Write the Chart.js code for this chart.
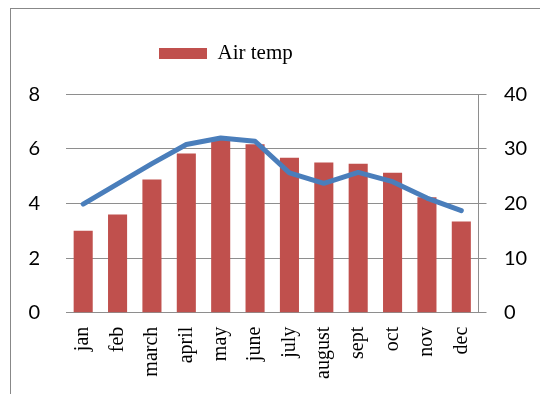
<!DOCTYPE html>
<html lang="en">
<head>
<meta charset="UTF-8">
<title>Air temp</title>
<script src="https://cdn.jsdelivr.net/npm/chart.js"></script>
<style>
  html, body { margin: 0; padding: 0; background: #fff; }
  #wrap { position: relative; width: 540px; height: 394px; overflow: hidden; }
  /* outer chart frame, only left and top edges are visible in the crop */
  #frame { position: absolute; left: 10px; top: 8px; width: 700px; height: 600px;
           border-left: 1px solid #888; border-top: 1px solid #888; }
  #chart { position: absolute; left: 0; top: 0; }
</style>
</head>
<body>
<div id="wrap">
  <div id="frame"></div>
  <canvas id="chart" width="540" height="394"></canvas>
</div>
<script>
// categories
const months = ["jan", "feb", "march", "april", "may", "june", "july", "august", "sept", "oct", "nov", "dec"];
// bar series (left axis)
const airTemp = [3.0, 3.6, 4.88, 5.83, 6.35, 6.17, 5.68, 5.5, 5.46, 5.13, 4.23, 3.34];
// line series (right axis)
const lineTemp = [19.9, 23.6, 27.3, 30.8, 32.0, 31.4, 25.6, 23.7, 25.7, 24.0, 21.0, 18.7];
// tick labels
const leftTicks = [0, 2, 4, 6, 8];
const rightTicks = [0, 10, 20, 30, 40];

const gridGray = "#8e8e8e";

// put the legend where it sits in the original (left of centre, above the plot)
const legendSpot = {
    id: "legendSpot",
    afterLayout(chart) {
        const lg = chart.legend;
        const h = lg.bottom - lg.top;
        lg.left = 149;
        lg.right = 540;
        lg.top = 33;
        lg.bottom = 33 + h;
    }
};

new Chart(document.getElementById("chart"), {
    data: {
        labels: months,
        datasets: [
            {
                type: "line",
                label: "Temp",
                data: lineTemp,
                yAxisID: "y2",
                borderColor: "#4A7EBB",
                borderWidth: 5,
                pointRadius: 0,
                tension: 0,
                borderCapStyle: "round",
                borderJoinStyle: "round",
                order: 0
            },
            {
                type: "bar",
                label: "Air temp",
                data: airTemp,
                yAxisID: "y",
                backgroundColor: "#C0504D",
                borderWidth: 0,
                categoryPercentage: 1,
                barPercentage: 0.555,
                order: 1
            }
        ]
    },
    options: {
        responsive: false,
        animation: false,
        layout: { padding: { top: 53.3, left: 0, right: 0, bottom: 0 } },
        plugins: {
            tooltip: { enabled: false },
            legend: {
                position: "top",
                align: "start",
                labels: {
                    boxWidth: 48,
                    boxHeight: 11,
                    padding: 10,
                    color: "#000",
                    font: { family: "'Liberation Serif', serif", size: 21 },
                    filter: item => item.text === "Air temp"
                }
            }
        },
        scales: {
            x: {
                grid: { display: false, drawTicks: false },
                border: { display: true, color: gridGray, width: 1 },
                ticks: {
                    color: "#000",
                    padding: 14,
                    maxRotation: 90,
                    minRotation: 90,
                    autoSkip: false,
                    font: { family: "'Liberation Serif', serif", size: 20 }
                },
                afterFit(s) { s.height = 81.3; }
            },
            y: {
                position: "left",
                min: 0,
                max: 8,
                afterBuildTicks(s) { s.ticks = leftTicks.map(v => ({ value: v })); },
                grid: { color: gridGray, lineWidth: 1, drawTicks: false },
                border: { display: false },
                ticks: {
                    color: "#000",
                    padding: 26,
                    font: { family: "Lato, sans-serif", size: 20 }
                },
                afterFit(s) { s.width = 66; }
            },
            y2: {
                position: "right",
                min: 0,
                max: 40,
                afterBuildTicks(s) { s.ticks = rightTicks.map(v => ({ value: v })); },
                grid: { drawOnChartArea: false, drawTicks: true, tickLength: 8, color: gridGray, lineWidth: 1 },
                border: { display: true, color: gridGray, width: 1 },
                ticks: {
                    color: "#000",
                    padding: 17.5,
                    font: { family: "Lato, sans-serif", size: 20 }
                },
                afterFit(s) { s.width = 61.5; }
            }
        }
    },
    plugins: [legendSpot]
});
</script>
</body>
</html>
